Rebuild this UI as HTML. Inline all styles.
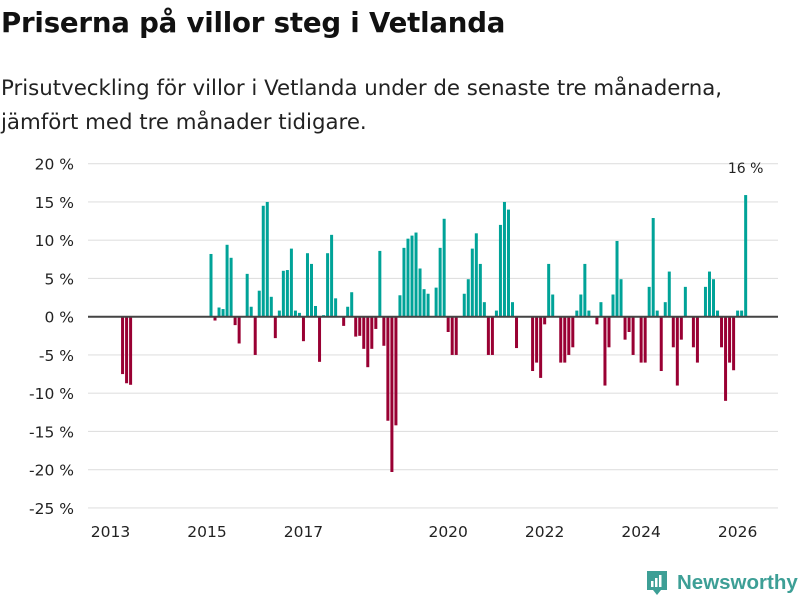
<!DOCTYPE html>
<html><head><meta charset="utf-8"><style>
body{margin:0;width:800px;height:600px;background:#fff;font-family:"DejaVu Sans","Liberation Sans",sans-serif;overflow:hidden;position:relative;color:#111}
#title{position:absolute;left:1px;top:6px;font-size:27.6px;font-weight:bold;margin:0;letter-spacing:-0.2px}
#sub{position:absolute;left:1px;top:72px;font-size:21.3px;line-height:34px;color:#222}
</style></head><body>
<h1 id="title">Priserna på villor steg i Vetlanda</h1>
<div id="sub">Prisutveckling för villor i Vetlanda under de senaste tre månaderna,<br>jämfört med tre månader tidigare.</div>
<svg id="chart" width="800" height="600" style="position:absolute;left:0;top:0"></svg>
<script>
const yTicks=[20,15,10,5,0,-5,-10,-15,-20,-25];
const xTickYears=[2013,2015,2017,2020,2022,2024,2026];
const startYear=2013;
const values=[null,null,null,-7.5,-8.7,-8.9,null,null,null,null,null,null,null,null,null,null,null,null,null,null,null,null,null,null,null,
8.2,-0.5,1.2,1.0,9.4,7.7,-1.1,-3.5,0,5.6,1.3,-5,3.4,14.5,15,2.6,-2.8,0.8,6,6.1,8.9,0.8,0.5,-3.2,8.3,6.9,1.4,-5.9,0.2,8.3,10.7,2.4,0,
-1.2,1.3,3.2,-2.6,-2.5,-4.2,-6.6,-4.2,-1.6,8.6,-3.8,-13.6,-20.3,-14.2,2.8,9,10.2,10.6,11,6.3,3.6,3,0,3.8,9,12.8,-2,-5,-5,0,
3,4.9,8.9,10.9,6.9,1.9,-5,-5,0.8,12,15,14,1.9,-4.1,0,0,0,-7.1,-6,-8,-1,6.9,2.9,0,-6,-6,-5,-4,0.8,2.9,6.9,0.8,0,
-1,1.9,-9,-4,2.9,9.9,4.9,-3,-2,-5,0,-6,-6,3.9,12.9,0.8,-7.1,1.9,5.9,-4,-9,-3,3.9,0,-4,-6,0,3.9,5.9,4.9,0.8,-4,-11,-6,-7,0.8,0.8,15.9];
const lastLabel="16 %";
const svg=document.getElementById('chart');
const NS='http://www.w3.org/2000/svg';
function y(v){return 316.7-v*7.65;}
function x(i){return 109+i*4.02;}
function mk(t,a){const e=document.createElementNS(NS,t);for(const k in a)e.setAttribute(k,a[k]);svg.appendChild(e);return e;}
yTicks.forEach(v=>{
 const g=mk('line',{x1:88,x2:778,y1:y(v),y2:y(v),stroke:'#e0e0e0','stroke-width':1.2});
 
 
 const t=mk('text',{x:74,y:y(v)+6,'text-anchor':'end','font-size':15.5,fill:'#222'});
 t.textContent=v+' %';
 
 
});
values.forEach((v,i)=>{
 if(v===null||v===0)return;
 const r=mk('rect',{x:x(i),width:3,y:Math.min(y(v),y(0)),height:Math.abs(y(v)-y(0)),fill:v>0?'#00a398':'#990033'});
 
 
});
const z=mk('line',{x1:88,x2:778,y1:y(0),y2:y(0),stroke:'#444','stroke-width':2});


xTickYears.forEach(yr=>{
 const t=mk('text',{x:x((yr-startYear)*12)+1.5,y:537,'text-anchor':'middle','font-size':15.5,fill:'#222'});
 t.textContent=yr;
 
 
});
const li=values.length-1;
const lt=mk('text',{x:x(li)+1.5,y:y(values[li])-22,'text-anchor':'middle','font-size':14,fill:'#222'});
lt.textContent=lastLabel;


</script>
<div style="position:absolute;left:645px;top:569px;height:28px;display:flex;align-items:center">
<svg width="24" height="28" viewBox="0 0 24 28"><path d="M2 2h20v19h-6l-4 5-4-5H2z" fill="#3d9f96"/><rect x="6" y="12" width="2.5" height="6" fill="#fff"/><rect x="10" y="9" width="2.5" height="9" fill="#fff"/><rect x="14" y="6" width="2.5" height="12" fill="#fff"/></svg>
<span style="font-family:'Liberation Sans',sans-serif;font-size:20.5px;color:#3d9f96;margin-left:8px;font-weight:bold">Newsworthy</span></div>
</body></html>
